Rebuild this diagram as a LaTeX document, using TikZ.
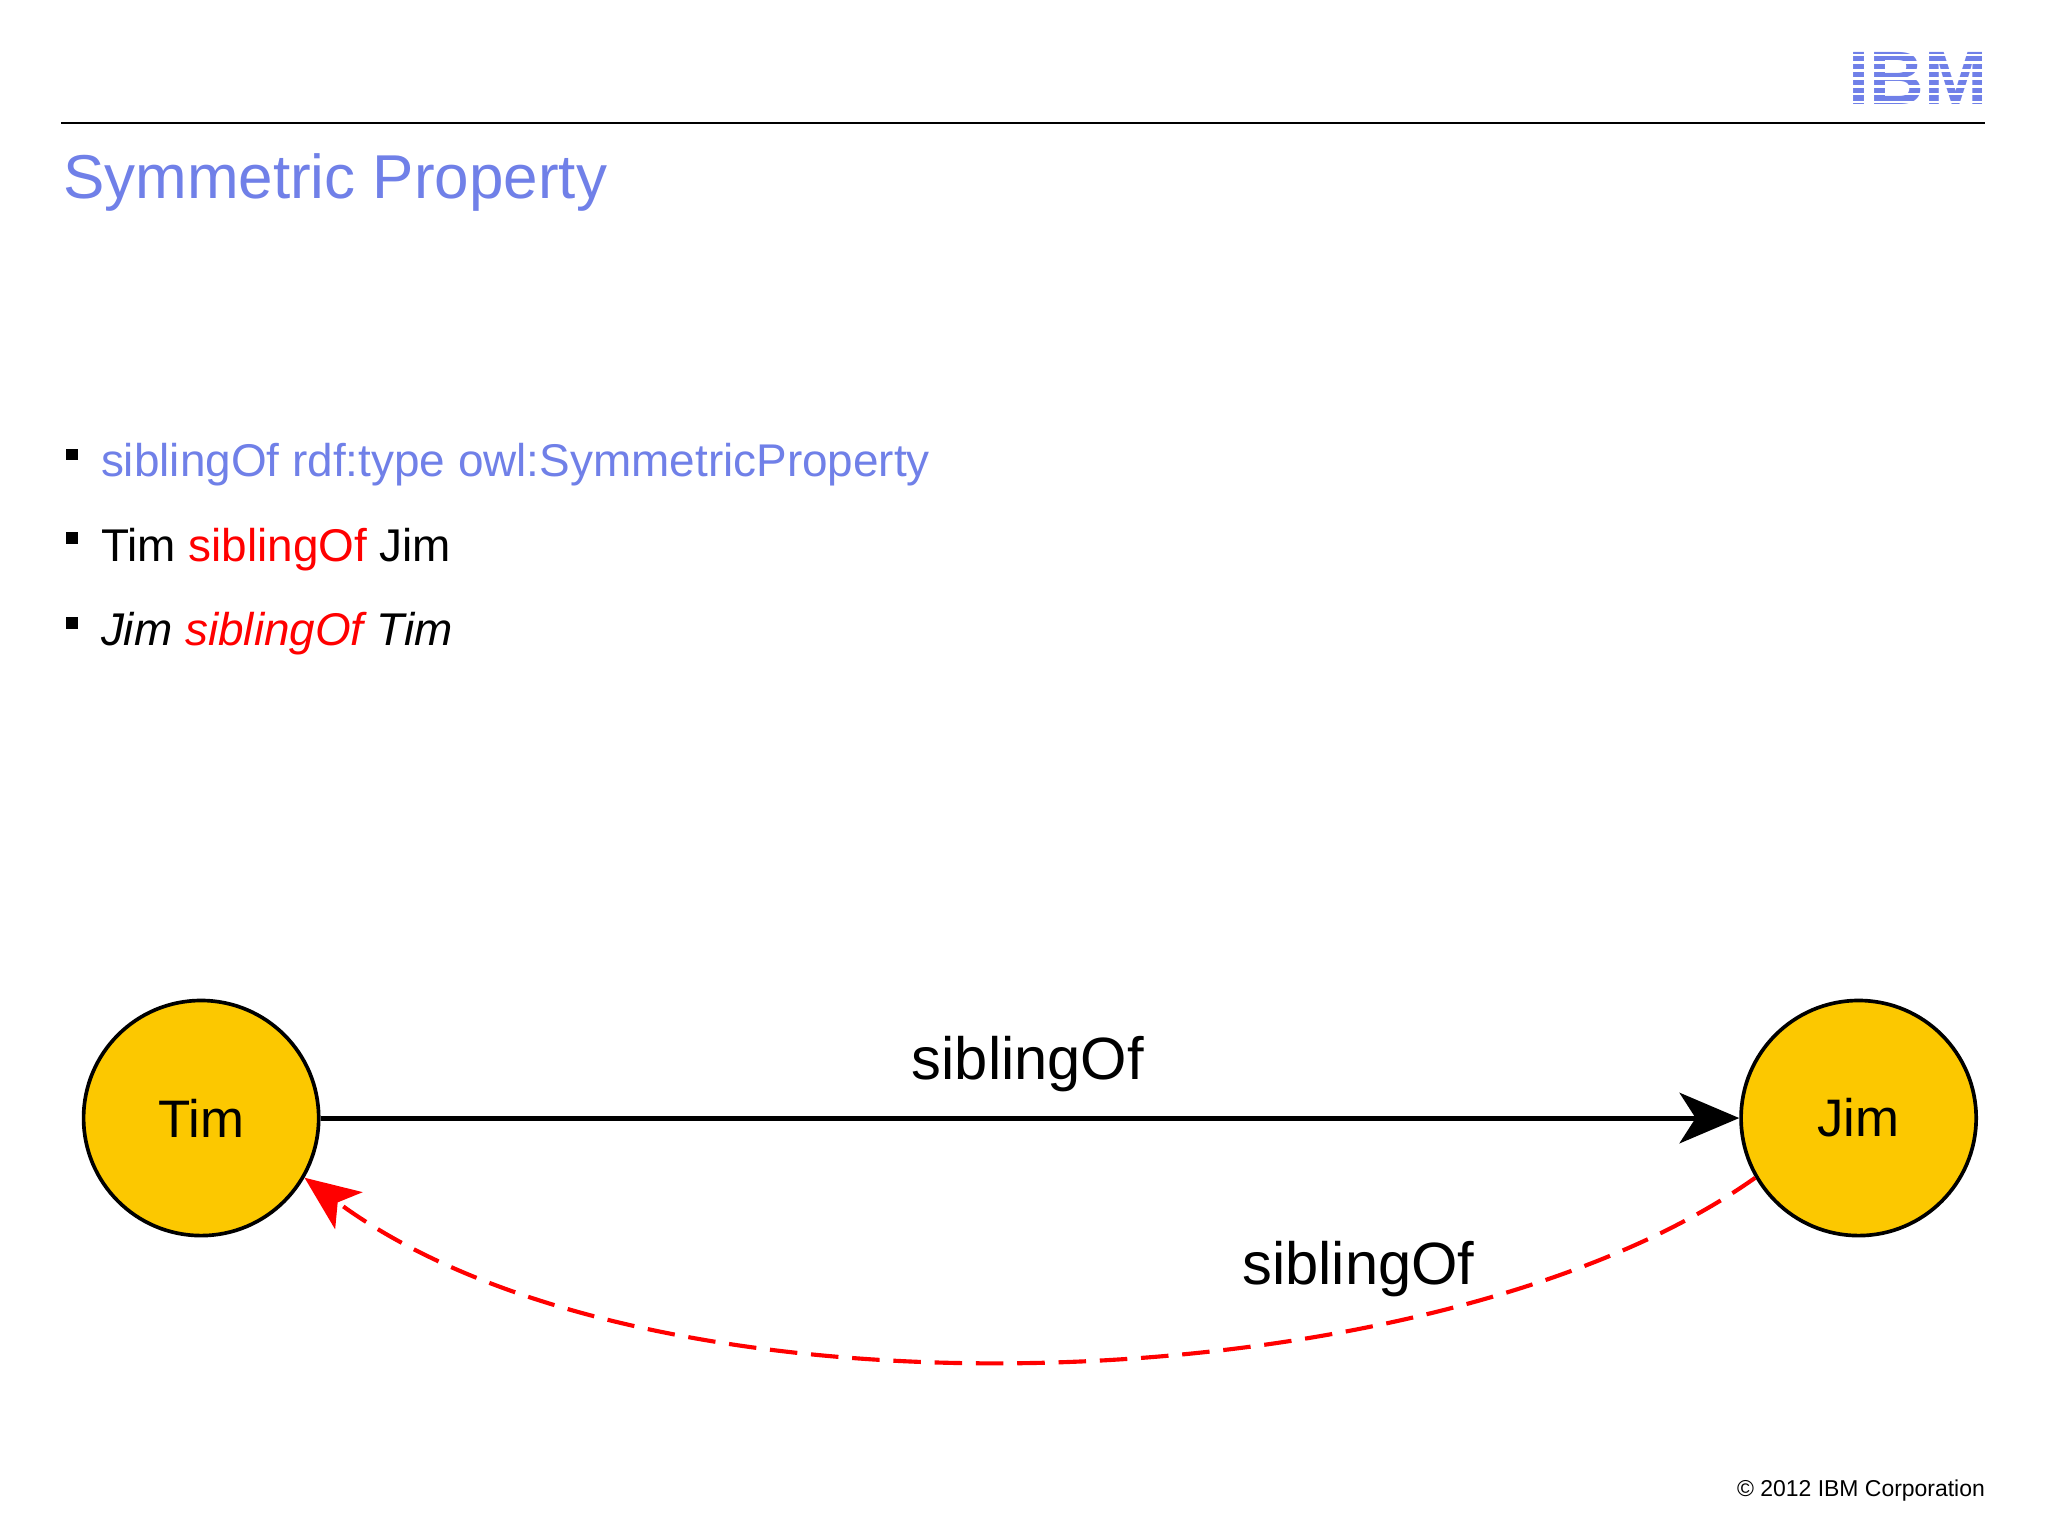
\documentclass[tikz,border=0pt]{standalone}
\usepackage{fontspec}
\setmainfont{Liberation Sans}
\usetikzlibrary{arrows.meta}
\definecolor{ibmblue}{RGB}{112,128,232}
\definecolor{nodey}{RGB}{252,200,0}
\begin{document}
\begin{tikzpicture}[x=0.02cm,y=-0.02cm,
  person/.style={circle,draw=black,line width=1.6pt,fill=nodey,minimum size=180*0.02cm,inner sep=0pt,font=\fontsize{23}{27}\selectfont},
  bul/.style={anchor=base west,inner sep=0pt,font=\fontsize{20}{24}\selectfont},
  sq/.style={fill=black,minimum size=5pt,inner sep=0pt}]
\useasboundingbox (0,0) rectangle (1568,1176);
\fill[white] (0,0) rectangle (1568,1176);
\draw[line width=0.7pt] (47,94) -- (1520,94);
\node[anchor=base west,inner sep=0pt,text=ibmblue,font=\fontsize{27}{32}\selectfont] (title) at (48,152) {Symmetric Property};
\node[anchor=east,text=ibmblue,font=\fontsize{33}{36}\bfseries\selectfont,inner sep=0pt] (logo) at (1522,60) {IBM};
\foreach \yy in {41,47,53,59,65,71,77} \fill[white] (1410,\yy) rectangle (1530,\yy+2);
\node[sq] (s1) at (55,348) {};
\node[sq] (s2) at (55,412) {};
\node[sq] (s3) at (55,477) {};
\node[bul,text=ibmblue] (b1) at (77,365) {siblingOf rdf:type owl:SymmetricProperty};
\node[bul] (b2) at (77,430) {Tim \textcolor{red}{siblingOf} Jim};
\node[bul] (b3) at (77,494) {\itshape Jim \textcolor{red}{siblingOf} Tim};
\node[person] (tim) at (154,856) {Tim};
\node[person] (jim) at (1423,856) {Jim};
\draw[line width=2.2pt,-{Stealth[length=26pt,width=22pt,inset=7pt]}] (tim) -- (jim);
\node[font=\fontsize{26}{30}\selectfont] (l1) at (787,815) {siblingOf};
\draw[red,line width=1.8pt,dash pattern=on 12pt off 6pt,-{Stealth[length=24pt,width=20pt,inset=6pt]}]
  (jim.-150) .. controls (1100,1075) and (500,1100) .. (tim.-30);
\node[font=\fontsize{26}{30}\selectfont] (l2) at (1040,972) {siblingOf};
\node[anchor=base east,inner sep=0pt,font=\fontsize{10}{12}\selectfont] (copy) at (1520,1146) {© 2012 IBM Corporation};
\end{tikzpicture}
\end{document}
